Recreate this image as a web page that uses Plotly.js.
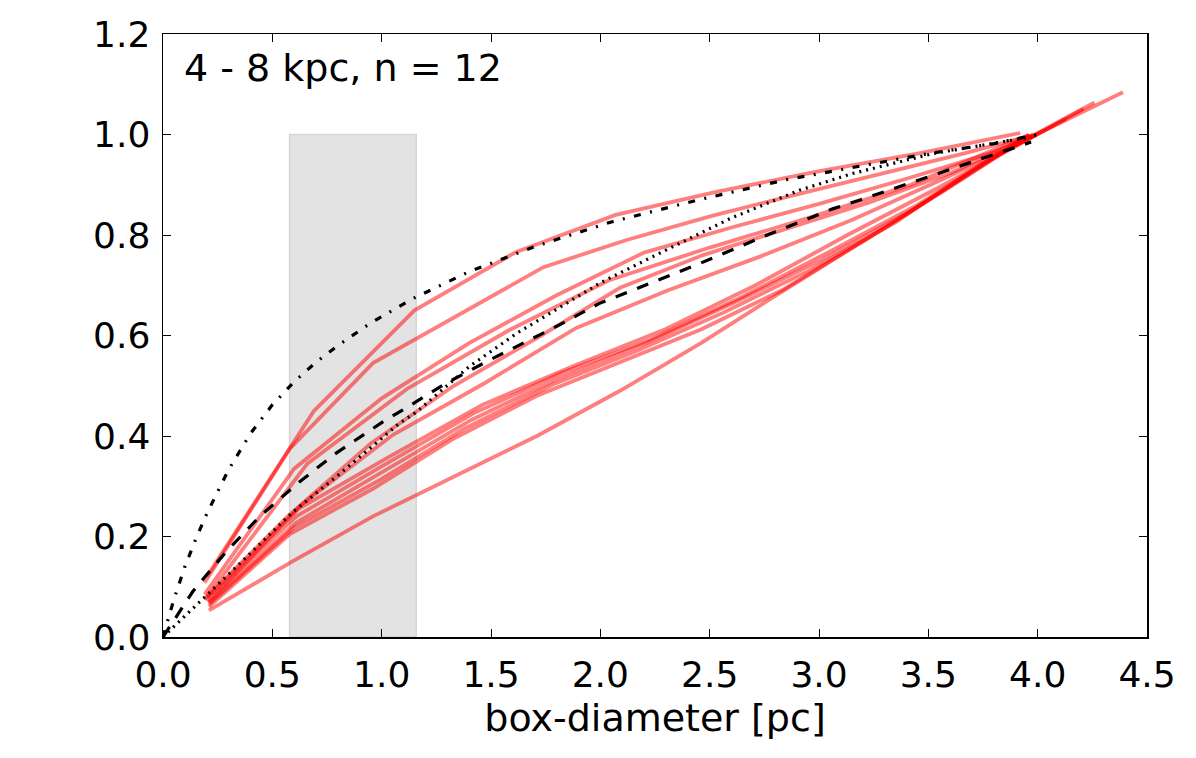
<!DOCTYPE html>
<html>
<head>
<meta charset="utf-8">
<script src="https://cdn.plot.ly/plotly-3.0.1.min.js"></script>
<style>
  html, body { margin: 0; padding: 0; background: #fff; }
  #chart { width: 1196px; height: 758px; }
</style>
</head>
<body>
<div id="chart"></div>
<script>
// box diameter [pc] vs normalised value, one red polyline per cloud (n = 12)
const redX = [
  [0.20, 0.69, 1.15, 1.61, 2.07, 2.53, 2.99, 3.45, 3.92],
  [0.19, 0.58, 0.96, 1.35, 1.74, 2.12, 2.51, 2.89, 3.28, 3.66, 3.97],
  [0.19, 0.60, 1.00, 1.40, 1.80, 2.20, 2.60, 3.00, 3.40, 3.80, 3.98],
  [0.20, 0.66, 1.12, 1.58, 2.04, 2.50, 2.96, 3.42, 3.96],
  [0.19, 0.57, 0.95, 1.33, 1.71, 2.09, 2.47, 2.85, 3.23, 3.61, 3.98],
  [0.21, 0.63, 1.05, 1.47, 1.89, 2.31, 2.73, 3.15, 3.57, 3.99],
  [0.20, 0.62, 1.04, 1.46, 1.88, 2.30, 2.71, 3.13, 3.55, 3.97, 4.39],
  [0.20, 0.61, 1.01, 1.42, 1.82, 2.23, 2.64, 3.04, 3.45, 3.85, 4.26],
  [0.21, 0.61, 1.01, 1.41, 1.81, 2.21, 2.61, 3.01, 3.41, 3.81, 4.21],
  [0.21, 0.60, 0.99, 1.38, 1.78, 2.17, 2.56, 2.95, 3.35, 3.74, 4.13],
  [0.21, 0.58, 0.96, 1.33, 1.71, 2.08, 2.46, 2.83, 3.21, 3.58, 3.96],
  [0.21, 0.59, 0.96, 1.34, 1.71, 2.09, 2.46, 2.84, 3.21, 3.59, 3.96]
];
const redY = [
  [0.120, 0.450, 0.650, 0.765, 0.840, 0.886, 0.926, 0.962, 1.003],
  [0.108, 0.375, 0.545, 0.640, 0.736, 0.790, 0.838, 0.880, 0.922, 0.962, 0.998],
  [0.085, 0.335, 0.475, 0.585, 0.680, 0.765, 0.815, 0.862, 0.912, 0.965, 0.998],
  [0.080, 0.345, 0.495, 0.610, 0.710, 0.775, 0.835, 0.900, 0.999],
  [0.075, 0.240, 0.385, 0.500, 0.595, 0.695, 0.760, 0.812, 0.865, 0.925, 1.000],
  [0.070, 0.262, 0.402, 0.505, 0.615, 0.690, 0.757, 0.830, 0.912, 0.998],
  [0.078, 0.255, 0.360, 0.462, 0.540, 0.613, 0.700, 0.800, 0.895, 0.995, 1.084],
  [0.072, 0.240, 0.342, 0.445, 0.525, 0.592, 0.675, 0.765, 0.860, 0.968, 1.064],
  [0.068, 0.228, 0.330, 0.432, 0.515, 0.585, 0.665, 0.750, 0.845, 0.955, 1.051],
  [0.065, 0.218, 0.312, 0.415, 0.502, 0.570, 0.645, 0.728, 0.825, 0.941, 1.031],
  [0.060, 0.205, 0.295, 0.395, 0.480, 0.545, 0.612, 0.690, 0.790, 0.890, 0.998],
  [0.053, 0.150, 0.240, 0.320, 0.400, 0.490, 0.585, 0.690, 0.790, 0.895, 1.000]
];

// reference curves (black)
const dashDotX = [0, 0.05, 0.1, 0.15, 0.2, 0.3, 0.4, 0.5, 0.6, 0.7, 0.8, 0.95, 1.15, 1.4, 1.7, 2.05, 2.45, 2.85, 3.2, 3.5, 3.8, 4.0];
const dashDotY = [0, 0.075, 0.14, 0.195, 0.245, 0.333, 0.405, 0.462, 0.508, 0.547, 0.580, 0.625, 0.675, 0.727, 0.777, 0.826, 0.870, 0.910, 0.938, 0.962, 0.982, 1.0];
const dottedX = [0, 0.18, 0.37, 0.59, 0.84, 1.08, 1.16, 1.40, 1.62, 1.83, 2.0, 2.3, 2.6, 2.91, 3.15, 3.52, 3.97];
const dottedY = [0, 0.074, 0.154, 0.247, 0.336, 0.425, 0.448, 0.538, 0.605, 0.660, 0.705, 0.770, 0.834, 0.889, 0.922, 0.962, 0.995];
const dashedX = [0, 0.076, 0.137, 0.213, 0.29, 0.442, 0.625, 0.792, 1.005, 1.097, 1.295, 1.493, 1.706, 1.813, 1.996, 2.224, 2.453, 2.758, 3.062, 3.184, 3.504, 3.84, 3.97];
const dashedY = [0, 0.051, 0.091, 0.131, 0.170, 0.240, 0.309, 0.366, 0.428, 0.452, 0.505, 0.551, 0.597, 0.621, 0.664, 0.703, 0.743, 0.799, 0.852, 0.869, 0.917, 0.966, 0.985];

// shaded box-diameter range
const bandX = [0.579, 1.158];
const bandTop = 1.0;

const label = '4 - 8 kpc, n = 12';
const xTitle = 'box-diameter [pc]';

const FONT = 'DejaVu Sans, Liberation Sans, sans-serif';

const traces = [];
for (let i = 0; i < redX.length; i++) {
  traces.push({ x: redX[i], y: redY[i], type: 'scatter', mode: 'lines',
    line: { color: 'rgba(255,0,0,0.5)', width: 3.8 }, hoverinfo: 'skip' });
}
function blackLine(x, y, dash) {
  return { x: x, y: y, type: 'scatter', mode: 'lines',
    line: { color: '#000', width: 3.2, dash: dash }, hoverinfo: 'skip' };
}
traces.push(blackLine(dashDotX, dashDotY, '7px,9.5px,2px,9.5px'));
traces.push(blackLine(dottedX, dottedY, '2px,5px'));
traces.push(blackLine(dashedX, dashedY, '12px,11px'));

const axisCommon = {
  showgrid: false, zeroline: false,
  showline: true, linecolor: '#000', linewidth: 1.5, mirror: 'ticks',
  ticks: 'inside', ticklen: 8, tickwidth: 1, tickcolor: '#000',
  tickformat: '.1f', tickfont: { family: FONT, size: 36, color: '#000' }
};

const layout = {
  width: 1196, height: 758,
  margin: { l: 163, r: 49, t: 34, b: 121 },
  paper_bgcolor: '#fff', plot_bgcolor: '#fff',
  showlegend: false,
  font: { family: FONT, color: '#000' },
  xaxis: Object.assign({}, axisCommon, {
    range: [0, 4.5], tick0: 0, dtick: 0.5, ticklabelstandoff: 5,
    title: { text: xTitle, font: { family: FONT, size: 38, color: '#000' }, standoff: 10 }
  }),
  yaxis: Object.assign({}, axisCommon, {
    range: [0, 1.2], tick0: 0, dtick: 0.2, ticklabelstandoff: 4
  }),
  shapes: [{
    type: 'rect', xref: 'x', yref: 'y', layer: 'below',
    x0: bandX[0], x1: bandX[1], y0: 0, y1: bandTop,
    fillcolor: '#e3e3e3', line: { color: '#d6d6d6', width: 1.5 }
  }],
  annotations: [{
    text: label, xref: 'paper', yref: 'paper', x: 0.019, y: 0.944,
    xanchor: 'left', yanchor: 'middle', showarrow: false,
    font: { family: FONT, size: 38, color: '#000' }
  }]
};

Plotly.newPlot('chart', traces, layout, { displayModeBar: false, staticPlot: true });
</script>
</body>
</html>
